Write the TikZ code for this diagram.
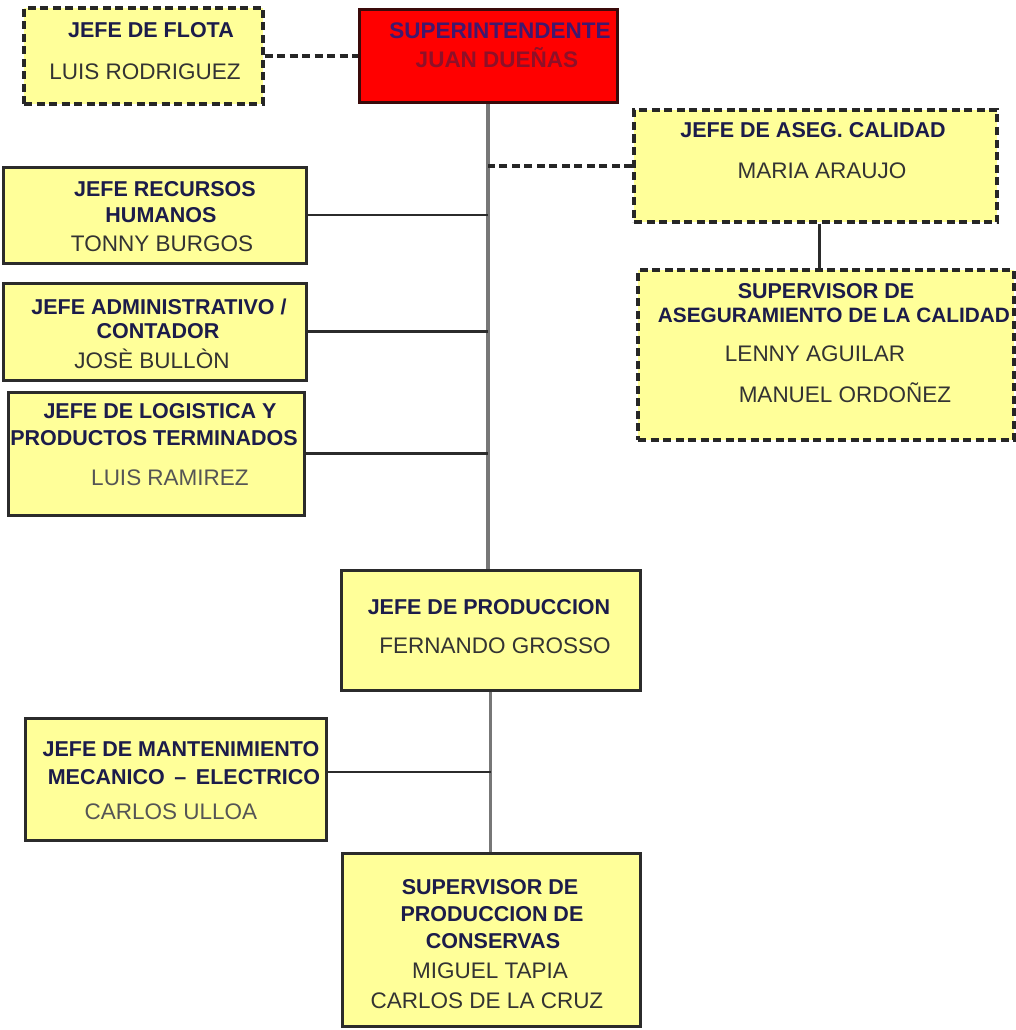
\documentclass[tikz,border=0pt]{standalone}
\usepackage{fontspec}
\setmainfont{Liberation Sans}
\definecolor{boxfill}{HTML}{FFFF99}
\definecolor{boxline}{HTML}{2B2B2B}
\definecolor{titlecol}{HTML}{1C1C4A}
\definecolor{namecol}{HTML}{333333}
\definecolor{namelight}{HTML}{555555}
\definecolor{trunkcol}{HTML}{777777}
\definecolor{headfill}{HTML}{FF0000}
\definecolor{headline}{HTML}{3A0A0A}
\definecolor{headtitle}{HTML}{40186E}
\definecolor{headname}{HTML}{8E1028}
\begin{document}
\begin{tikzpicture}[x=1pt,y=-1pt,
  orgbox/.style={draw=boxline, fill=boxfill, line width=3pt, inner sep=0pt},
  dashbox/.style={draw=black!85, fill=boxfill, line width=3.2pt, inner sep=0pt, dash pattern=on 8pt off 4.5pt},
  headbox/.style={draw=headline, fill=headfill, line width=3pt, inner sep=0pt},
  ttl/.style={anchor=base, inner sep=0pt, text=titlecol, font=\fontsize{21.5}{25}\selectfont\bfseries},
  nm/.style={anchor=base, inner sep=0pt, text=namecol, font=\fontsize{22.5}{26}\selectfont},
  nmlight/.style={nm, text=namelight},
  trunk/.style={draw=trunkcol, line width=3.5pt},
  link/.style={draw=boxline, line width=2.5pt},
  dashlink/.style={draw=black!85, line width=3.2pt, dash pattern=on 8pt off 4.5pt}]

% canvas
\path[use as bounding box, fill=white] (0,0) rectangle (1016,1030);

% boxes
\node[dashbox, minimum width=239pt, minimum height=96pt]  (flota)   at (143.5,56)  {};
\node[headbox, minimum width=258pt, minimum height=93pt]  (super)   at (488,56.5)  {};
\node[dashbox, minimum width=363pt, minimum height=112pt] (aseg)    at (815.5,166) {};
\node[dashbox, minimum width=376pt, minimum height=170pt] (supaseg) at (826,355)   {};
\node[orgbox,  minimum width=303pt, minimum height=96pt]  (rrhh)    at (154.5,215) {};
\node[orgbox,  minimum width=303pt, minimum height=97pt]  (admin)   at (154.5,331.5) {};
\node[orgbox,  minimum width=296pt, minimum height=123pt] (logis)   at (156,453.5) {};
\node[orgbox,  minimum width=299pt, minimum height=120pt] (prod)    at (490.5,630) {};
\node[orgbox,  minimum width=301pt, minimum height=122pt] (mant)    at (175.5,779) {};
\node[orgbox,  minimum width=298pt, minimum height=173pt] (supprod) at (491,939.5) {};

% connectors
\draw[trunk] (super.south) -- (super.south |- prod.north);
\draw[trunk] (prod.south) -- (prod.south |- supprod.north);
\draw[dashlink] (flota.east) -- (flota.east -| super.west);
\draw[dashlink] (aseg.west) -- (aseg.west -| super.south);
\draw[link] ([xshift=4pt]aseg.south) -- ([xshift=4pt]aseg.south |- supaseg.north);
\draw[link] (rrhh.east) -- (rrhh.east -| super.south);
\draw[link] (admin.east) -- (admin.east -| super.south);
\draw[link] (logis.east) -- (logis.east -| super.south);
\draw[link] ([yshift=7pt]mant.east) -- ([yshift=7pt]mant.east -| prod.south);

% texts
\node[ttl] (flotaT) at (151,38) {JEFE DE FLOTA};
\node[nm]  (flotaN) at (145,80) {LUIS RODRIGUEZ};

\node[ttl, text=headtitle, font=\fontsize{22.5}{26}\selectfont\bfseries] (superT) at (500,39) {SUPERINTENDENTE};
\node[nm, text=headname, font=\fontsize{22.5}{26}\selectfont\bfseries] (superN) at (497,67.5) {JUAN DUEÑAS};

\node[ttl] (asegT) at (813,138) {JEFE DE ASEG. CALIDAD};
\node[nm]  (asegN) at (822,178) {MARIA ARAUJO};

\node[ttl] (supasegT1) at (826,298) {SUPERVISOR DE};
\node[ttl, font=\fontsize{20.8}{25}\selectfont\bfseries] (supasegT2) at (834,322) {ASEGURAMIENTO DE LA CALIDAD};
\node[nm]  (supasegN1) at (815,361) {LENNY AGUILAR};
\node[nm]  (supasegN2) at (845,402) {MANUEL ORDOÑEZ};

\node[ttl] (rrhhT1) at (165,196) {JEFE RECURSOS};
\node[ttl] (rrhhT2) at (161,222) {HUMANOS};
\node[nm]  (rrhhN)  at (162,251) {TONNY BURGOS};

\node[ttl] (adminT1) at (159,314) {JEFE ADMINISTRATIVO /};
\node[ttl] (adminT2) at (158,338) {CONTADOR};
\node[nm]  (adminN)  at (152,368) {JOSÈ BULLÒN};

\node[ttl]     (logisT1) at (160,418) {JEFE DE LOGISTICA Y};
\node[ttl]     (logisT2) at (154,445) {PRODUCTOS TERMINADOS};
\node[nmlight] (logisN)  at (170,485) {LUIS RAMIREZ};

\node[ttl] (prodT) at (489,614) {JEFE DE PRODUCCION};
\node[nm]  (prodN) at (495,653) {FERNANDO GROSSO};

\node[ttl]     (mantT1) at (181,756) {JEFE DE MANTENIMIENTO};
\node[ttl]     (mantT2) at (184,784) {MECANICO \,–\, ELECTRICO};
\node[nmlight] (mantN)  at (171,819) {CARLOS ULLOA};

\node[ttl] (supprodT1) at (490,894) {SUPERVISOR DE};
\node[ttl] (supprodT2) at (492,921) {PRODUCCION DE};
\node[ttl] (supprodT3) at (493,948) {CONSERVAS};
\node[nm]  (supprodN1) at (490,978) {MIGUEL TAPIA};
\node[nm]  (supprodN2) at (487,1008) {CARLOS DE LA CRUZ};
\end{tikzpicture}
\end{document}
